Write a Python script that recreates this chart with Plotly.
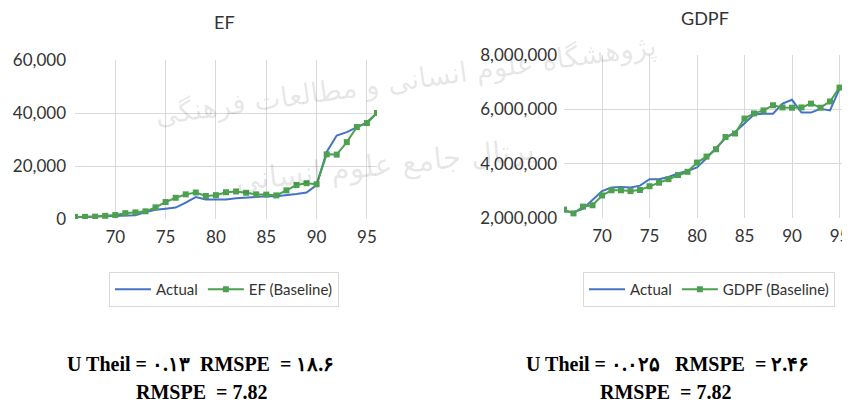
import plotly.graph_objects as go
from plotly.subplots import make_subplots

# years 66..96 (solar hijri)
YEARS = [66, 67, 68, 69, 70, 71, 72, 73, 74, 75, 76, 77, 78, 79, 80, 81,
         82, 83, 84, 85, 86, 87, 88, 89, 90, 91, 92, 93, 94, 95, 96]

EF_ACTUAL = [700, 800, 900, 1000, 1100, 1200, 1400, 2600, 3500, 3900, 4300,
             6200, 8300, 7400, 7400, 7400, 7800, 8100, 8400, 8600, 8600, 8900,
             9400, 10000, 12800, 25300, 31500, 32800, 34600, 36500, 40000]
EF_BASELINE = [800, 800, 900, 1200, 1500, 2200, 2500, 2900, 4400, 6400, 8000,
               9300, 10000, 8700, 9000, 10100, 10400, 9900, 9300, 9200, 8900,
               10800, 12800, 13500, 13100, 24400, 24300, 29000, 34700, 36200, 40000]

GDPF_ACTUAL = [2250000, 2210000, 2340000, 2670000, 2990000, 3120000, 3140000,
               3120000, 3190000, 3430000, 3430000, 3510000, 3640000, 3730000,
               3860000, 4200000, 4570000, 4940000, 5160000, 5500000, 5810000,
               5840000, 5840000, 6210000, 6350000, 5880000, 5880000, 6020000,
               5960000, 6750000, 6960000]
GDPF_BASELINE = [2310000, 2170000, 2420000, 2470000, 2830000, 3020000, 3020000,
                 2990000, 3030000, 3170000, 3300000, 3430000, 3580000, 3700000,
                 4040000, 4260000, 4530000, 4980000, 5110000, 5660000, 5850000,
                 5960000, 6150000, 6070000, 6060000, 6070000, 6210000, 6060000,
                 6290000, 6800000, 6800000]

BLUE = "#4472C4"
GREEN = "#4CA050"
GRID = "#D9D9D9"
TEXT = "#333333"
FONT = "Lato, sans-serif"

# the page body adds an 8px margin, so the figure is sized to fit the window
OX, OY = 8, 8
W, H = 842, 394


def px(x):
    return (x - OX) / W


def py(y):
    return 1 - (y - OY) / H


fig = make_subplots(rows=1, cols=2)

fig.add_trace(go.Scatter(x=YEARS, y=EF_ACTUAL, mode="lines", name="Actual",
                         line=dict(color=BLUE, width=2), legend="legend"), row=1, col=1)
fig.add_trace(go.Scatter(x=YEARS, y=EF_BASELINE, mode="lines+markers", name="EF (Baseline)",
                         line=dict(color=GREEN, width=2), marker=dict(symbol="square", size=6, color=GREEN),
                         legend="legend"), row=1, col=1)
fig.add_trace(go.Scatter(x=YEARS, y=GDPF_ACTUAL, mode="lines", name="Actual",
                         line=dict(color=BLUE, width=2), legend="legend2"), row=1, col=2)
fig.add_trace(go.Scatter(x=YEARS, y=GDPF_BASELINE, mode="lines+markers", name="GDPF (Baseline)",
                         line=dict(color=GREEN, width=2), marker=dict(symbol="square", size=6, color=GREEN),
                         legend="legend2"), row=1, col=2)

axis_common = dict(showgrid=True, gridcolor=GRID, gridwidth=1, zeroline=False, showline=False,
                   automargin=False, tickfont=dict(family=FONT, size=17, color=TEXT))

fig.update_xaxes(range=[66, 96], tick0=70, dtick=5, ticklabelstandoff=6, **axis_common)
fig.update_yaxes(**axis_common)

fig.update_layout(
    xaxis=dict(domain=[px(75), px(377)]),
    xaxis2=dict(domain=[px(564), px(849)]),
    yaxis=dict(domain=[py(219), py(60)], range=[0, 60000], dtick=20000, tickformat=",",
               ticklabelstandoff=8),
    yaxis2=dict(domain=[py(218), py(55)], range=[2000000, 8000000], dtick=2000000,
                tickformat=",", ticklabelstandoff=6),
    width=W, height=H,
    margin=dict(l=0, r=0, t=0, b=0, autoexpand=False),
    paper_bgcolor="white", plot_bgcolor="white",
    font=dict(family=FONT, color=TEXT),
    showlegend=True,
    legend=dict(orientation="h", x=px(224), xanchor="center", y=py(272), yanchor="top",
                bordercolor=GRID, borderwidth=1, font=dict(family=FONT, size=15, color=TEXT),
                itemwidth=36, tracegroupgap=0),
    legend2=dict(orientation="h", x=px(709), xanchor="center", y=py(272), yanchor="top",
                 bordercolor=GRID, borderwidth=1, font=dict(family=FONT, size=15, color=TEXT),
                 itemwidth=36, tracegroupgap=0),
)

# chart titles
fig.add_annotation(text="EF", x=px(224), y=py(22), xref="paper", yref="paper",
                   xanchor="center", yanchor="middle", showarrow=False,
                   font=dict(family=FONT, size=18, color=TEXT))
fig.add_annotation(text="GDPF", x=px(705), y=py(18), xref="paper", yref="paper",
                   xanchor="center", yanchor="middle", showarrow=False,
                   font=dict(family=FONT, size=18, color=TEXT))

# faint background watermark
fig.add_annotation(text="پژوهشگاه علوم انسانی و مطالعات فرهنگی", x=px(405), y=py(80),
                   xref="paper", yref="paper", xanchor="center", yanchor="middle",
                   showarrow=False, textangle=-8,
                   font=dict(family="DejaVu Sans", size=28, color="rgba(0,0,0,0.10)"))
fig.add_annotation(text="پرتال جامع علوم انسانی", x=px(385), y=py(165),
                   xref="paper", yref="paper", xanchor="center", yanchor="middle",
                   showarrow=False, textangle=-6,
                   font=dict(family="DejaVu Sans", size=30, color="rgba(0,0,0,0.10)"))

# statistics below each chart
stat_font = dict(family="Liberation Serif", size=20, color="black")
stats = [
    ("<b>U Theil = ۰.۱۳  RMSPE  = ۱۸.۶</b>", 200, 364),
    ("<b>RMSPE  = 7.82</b>", 201, 392),
    ("<b>U Theil = ۰.۰۲۵   RMSPE  = ۲.۴۶</b>", 667, 364),
    ("<b>RMSPE  = 7.82</b>", 665, 392),
]
for text, sx, sy in stats:
    fig.add_annotation(text=text, x=px(sx), y=py(sy), xref="paper", yref="paper",
                       xanchor="center", yanchor="middle", showarrow=False, font=stat_font)

fig.write_html("out.html")
